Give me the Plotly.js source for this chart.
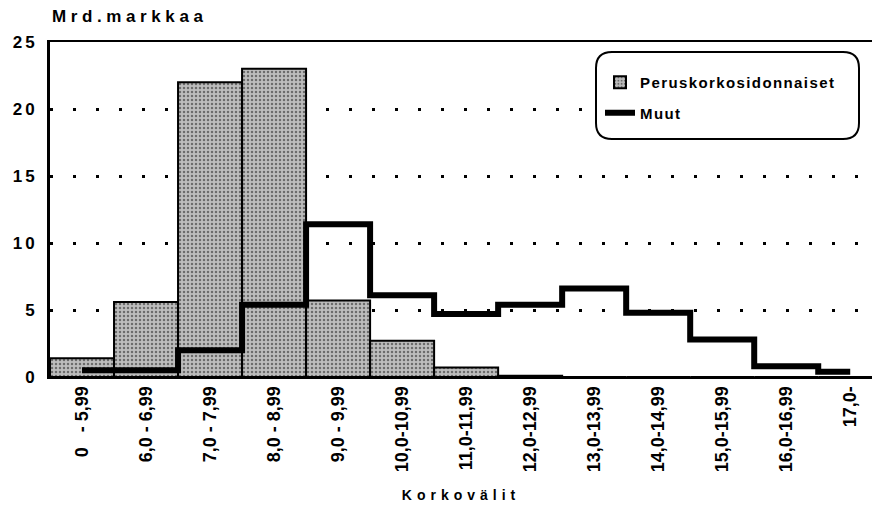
<!DOCTYPE html>
<html><head><meta charset="utf-8">
<script src="https://cdn.plot.ly/plotly-3.0.1.min.js"></script>
<style>
html,body{margin:0;padding:0;background:#fff}
#chart{width:874px;height:510px}
.annotation-text{letter-spacing:4.6px}
.xtitle{letter-spacing:5px}
.legendtext{letter-spacing:1.4px}
.ytick text{letter-spacing:3px}
</style></head><body><div id="chart"></div>
<script>
// ---- data ----
const categories = ['0\u00a0\u00a0\u00a0- 5,99','6,0 - 6,99','7,0 - 7,99','8,0 - 8,99','9,0 - 9,99',
  '10,0-10,99','11,0-11,99','12,0-12,99','13,0-13,99','14,0-14,99','15,0-15,99','16,0-16,99','17,0-'];
const peruskorko = [1.4, 5.6, 22.0, 23.0, 5.7, 2.7, 0.7, 0.1, 0, 0, 0, 0, 0];
const muut = [0.5, 0.5, 2.0, 5.4, 11.4, 6.1, 4.7, 5.4, 6.6, 4.8, 2.8, 0.8, 0.4];
const seriesNames = ['Peruskorkosidonnaiset', 'Muut'];
const yTickValues = [0, 5, 10, 15, 20, 25];
const yUnitLabel = 'Mrd.markkaa';
const xTitle = 'Korkovälit';

// ---- layout geometry ----
const W = 874, H = 510;
const M = {l: 50, r: 2, t: 42, b: 133};
const pw = W - M.l - M.r, ph = H - M.t - M.b;
const px2x = p => (p - M.l) / pw;
const px2y = p => (H - M.b - p) / ph;

function roundedRect(x0, y0, x1, y1, r) {
  const rx = r / pw, ry = r / ph;
  const X0 = px2x(x0), X1 = px2x(x1), Yt = px2y(y0), Yb = px2y(y1);
  return `M${X0 + rx},${Yt} L${X1 - rx},${Yt} Q${X1},${Yt} ${X1},${Yt - ry} ` +
         `L${X1},${Yb + ry} Q${X1},${Yb} ${X1 - rx},${Yb} ` +
         `L${X0 + rx},${Yb} Q${X0},${Yb} ${X0},${Yb + ry} ` +
         `L${X0},${Yt - ry} Q${X0},${Yt} ${X0 + rx},${Yt} Z`;
}

const font = 'Liberation Sans, Arial, Helvetica, sans-serif';

const traces = [
  {
    type: 'bar', x: categories, y: peruskorko, name: seriesNames[0],
    legendgroup: 'a',
    marker: {
      color: '#ffffff',
      line: {color: '#000', width: 2},
      pattern: {shape: '.', size: 4, solidity: 0.3, fgcolor: '#1a1a1a', bgcolor: '#bdbdbd', fillmode: 'overlay'}
    },
    hoverinfo: 'skip'
  },
  {
    type: 'scatter', mode: 'lines', x: categories, y: muut, name: seriesNames[1],
    legendgroup: 'b',
    line: {color: '#000', width: 6, shape: 'hvh'},
    hoverinfo: 'skip'
  }
];

const layout = {
  width: W, height: H,
  margin: M,
  paper_bgcolor: '#fff', plot_bgcolor: '#fff',
  font: {family: font, color: '#000'},
  bargap: 0,
  showlegend: true,
  legend: {
    x: px2x(600), y: px2y(66), xanchor: 'left', yanchor: 'top',
    bgcolor: 'rgba(0,0,0,0)', borderwidth: 0,
    font: {family: font, size: 15, color: '#000', weight: 'bold'},
    traceorder: 'grouped', tracegroupgap: 8
  },
  xaxis: {
    type: 'category',
    range: [-0.5, 12.34],
    showline: true, linecolor: '#000', linewidth: 2, mirror: true,
    showgrid: false, zeroline: false,
    ticks: '', tickangle: -90,
    tickfont: {family: font, size: 18, color: '#000', weight: 'bold'},
    title: {text: xTitle, font: {family: font, size: 14, color: '#000', weight: 'bold'}, standoff: 19},
    automargin: false, fixedrange: true
  },
  yaxis: {
    range: [0, 25],
    tickvals: yTickValues,
    showline: true, linecolor: '#000', linewidth: 3,
    showgrid: true, gridcolor: '#000', gridwidth: 3, griddash: '3px,20px',
    zeroline: false, ticks: '',
    tickfont: {family: font, size: 17, color: '#000', weight: 'bold'},
    ticklabelstandoff: 6,
    automargin: false, fixedrange: true
  },
  shapes: [
    {type: 'path', xref: 'paper', yref: 'paper', path: roundedRect(596, 52, 859, 139, 16),
     fillcolor: '#fff', line: {color: '#000', width: 2}, layer: 'above'}
  ],
  annotations: [
    {text: yUnitLabel, xref: 'paper', yref: 'paper', x: 0, y: px2y(16),
     xanchor: 'left', yanchor: 'middle', showarrow: false,
     font: {family: font, size: 17, color: '#000', weight: 'bold'}}
  ]
};

Plotly.newPlot('chart', traces, layout, {staticPlot: true, displayModeBar: false});
</script></body></html>
